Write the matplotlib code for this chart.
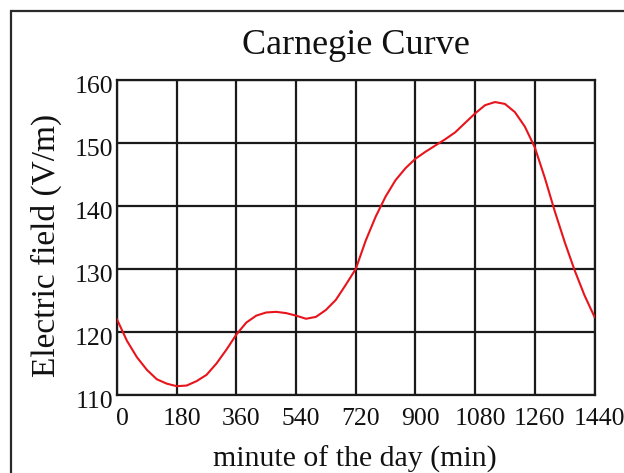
import matplotlib
matplotlib.use("Agg")
import matplotlib.pyplot as plt
import matplotlib.transforms as mtransforms
from matplotlib.patches import Rectangle

# Carnegie curve (minute of day, V/m)
minutes = [0, 30, 60, 90, 120, 150, 180, 210, 240, 270, 300, 330, 360,
           390, 420, 450, 480, 510, 540, 570, 600, 630, 660, 690, 720,
           750, 780, 810, 840, 870, 900, 930, 960, 990, 1020, 1050, 1080,
           1110, 1140, 1170, 1200, 1230, 1260, 1290, 1320, 1350, 1380,
           1410, 1440]
field = [122.0, 118.6, 116.0, 114.0, 112.5, 111.8, 111.4, 111.5, 112.2,
         113.2, 115.0, 117.2, 119.6, 121.5, 122.6, 123.1, 123.2, 123.0,
         122.6, 122.1, 122.4, 123.5, 125.1, 127.5, 130.0, 134.5, 138.3,
         141.5, 144.1, 146.0, 147.5, 148.6, 149.6, 150.6, 151.7, 153.2,
         154.7, 156.0, 156.5, 156.2, 154.9, 152.6, 149.3, 144.5, 139.2,
         134.3, 129.8, 125.8, 122.4]

xticks = [0, 180, 360, 540, 720, 900, 1080, 1260, 1440]
yticks = [110, 120, 130, 140, 150, 160]

plt.rcParams['font.family'] = ['Liberation Serif', 'DejaVu Serif']

fig = plt.figure(figsize=(6.24, 4.73), dpi=100)
ax = fig.add_axes([117 / 624, 1 - 395 / 473, 477.5 / 624, 315 / 473])

# frame around the whole figure (cropped at right and bottom)
fig.patches.append(Rectangle((10.5 / 624, -0.1), 1.2, 1.1 - 11 / 473,
                             transform=fig.transFigure, fill=False,
                             edgecolor='#2a2a2a', linewidth=1.6, zorder=0))

ax.plot(minutes, field, color='#e8141c', linewidth=1.5, zorder=3)

ax.set_xlim(0, 1440)
ax.set_ylim(110, 160)
ax.set_xticks(xticks)
ax.set_yticks(yticks)
ax.grid(True, color='#1a1a1a', linewidth=1.6)
for s in ax.spines.values():
    s.set_color('#1a1a1a')
    s.set_linewidth(1.6)
ax.tick_params(length=0, labelsize=18.5, colors='#111111')
ax.tick_params(axis='x', pad=9)
ax.tick_params(axis='y', pad=3)

for lab in ax.get_xticklabels():
    lab.set_transform(lab.get_transform() +
                      mtransforms.ScaledTranslation(5 / 100, 0, fig.dpi_scale_trans))
for lab in ax.get_yticklabels():
    lab.set_transform(lab.get_transform() +
                      mtransforms.ScaledTranslation(0, -4 / 100, fig.dpi_scale_trans))

ax.set_title('Carnegie Curve', fontsize=26, pad=19, color='#111111')
ax.set_xlabel('minute of the day (min)', fontsize=21.5, color='#111111')
ax.set_ylabel('Electric field (V/m)', fontsize=24, color='#111111')
ax.xaxis.set_label_coords(0.498, -0.203)
ax.xaxis.label.set_va('center')
ax.yaxis.set_label_coords(-0.147, 0.476)
ax.yaxis.label.set_va('center')

fig.savefig('out.png', dpi=100)
